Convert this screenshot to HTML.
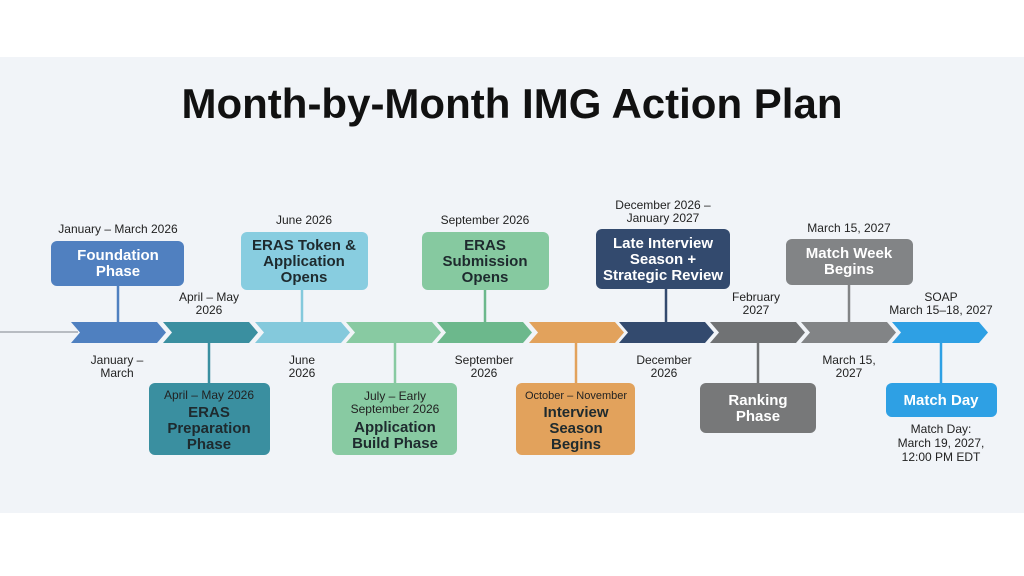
<!DOCTYPE html>
<html><head><style>
html,body{margin:0;padding:0;background:#fff;}
svg{display:block;}
text{font-family:"Liberation Sans","DejaVu Sans",sans-serif;text-anchor:middle;}
.l{font-size:12px;fill:#222;}
.b{font-size:15px;font-weight:bold;}
.w{fill:#fff;}
.d{fill:#1e2a2e;}
</style></head><body>
<svg width="1024" height="576" viewBox="0 0 1024 576" xmlns="http://www.w3.org/2000/svg">
<rect x="0" y="0" width="1024" height="576" fill="#fff"/>
<rect x="0" y="57" width="1024" height="456" fill="#f1f4f8"/>
<text x="512" y="118" style="font-size:42px;font-weight:bold;fill:#111">Month-by-Month IMG Action Plan</text>
<line x1="0" y1="332" x2="78" y2="332" stroke="#b8bcc2" stroke-width="2"/>
<g>
<polygon points="71,322 157,322 166,332.5 157,343 71,343 80,332.5" fill="#4f80c0"/>
<polygon points="163,322 249,322 258,332.5 249,343 163,343 172,332.5" fill="#3a8fa0"/>
<polygon points="255,322 341,322 350,332.5 341,343 255,343 264,332.5" fill="#84c9dc"/>
<polygon points="346,322 432,322 441,332.5 432,343 346,343 355,332.5" fill="#88caa2"/>
<polygon points="437,322 523,322 532,332.5 523,343 437,343 446,332.5" fill="#6cb88c"/>
<polygon points="529,322 615,322 624,332.5 615,343 529,343 538,332.5" fill="#e2a25c"/>
<polygon points="619,322 705,322 714,332.5 705,343 619,343 628,332.5" fill="#334a6e"/>
<polygon points="710,322 796,322 805,332.5 796,343 710,343 719,332.5" fill="#707274"/>
<polygon points="801,322 887,322 896,332.5 887,343 801,343 810,332.5" fill="#828486"/>
<polygon points="892,322 979,322 988,332.5 979,343 892,343 901,332.5" fill="#2ea0e4"/>
</g>
<g stroke-width="2.5">
<line x1="118" y1="286" x2="118" y2="322" stroke="#4f80c0"/>
<line x1="209" y1="343" x2="209" y2="383" stroke="#3a8fa0"/>
<line x1="302" y1="290" x2="302" y2="322" stroke="#84c9dc"/>
<line x1="395" y1="343" x2="395" y2="383" stroke="#88caa2"/>
<line x1="485" y1="290" x2="485" y2="322" stroke="#6cb88c"/>
<line x1="576" y1="343" x2="576" y2="383" stroke="#e2a25c"/>
<line x1="666" y1="289" x2="666" y2="322" stroke="#334a6e"/>
<line x1="758" y1="343" x2="758" y2="383" stroke="#707274"/>
<line x1="849" y1="285" x2="849" y2="322" stroke="#828486"/>
<line x1="941" y1="343" x2="941" y2="383" stroke="#2ea0e4"/>
</g>
<rect x="51" y="241" width="133" height="45" rx="6" fill="#5080c0"/>
<text class="b w" x="118" y="260">Foundation</text><text class="b w" x="118" y="276">Phase</text>
<rect x="149" y="383" width="121" height="72" rx="6" fill="#3a8fa0"/>
<text class="l" x="209" y="399">April – May 2026</text>
<text class="b d" x="209" y="417">ERAS</text><text class="b d" x="209" y="433">Preparation</text><text class="b d" x="209" y="449">Phase</text>
<rect x="241" y="232" width="127" height="58" rx="6" fill="#88cde0"/>
<text class="b d" x="304" y="250">ERAS Token &amp;</text><text class="b d" x="304" y="266">Application</text><text class="b d" x="304" y="282">Opens</text>
<rect x="332" y="383" width="125" height="72" rx="6" fill="#88caa2"/>
<text class="l" x="395" y="400">July – Early</text><text class="l" x="395" y="413">September 2026</text>
<text class="b d" x="395" y="432">Application</text><text class="b d" x="395" y="448">Build Phase</text>
<rect x="422" y="232" width="127" height="58" rx="6" fill="#86c9a0"/>
<text class="b d" x="485" y="250">ERAS</text><text class="b d" x="485" y="266">Submission</text><text class="b d" x="485" y="282">Opens</text>
<rect x="516" y="383" width="119" height="72" rx="6" fill="#e2a25c"/>
<text class="l" x="576" y="399" style="font-size:11px">October – November</text>
<text class="b d" x="576" y="417">Interview</text><text class="b d" x="576" y="433">Season</text><text class="b d" x="576" y="449">Begins</text>
<rect x="596" y="229" width="134" height="60" rx="6" fill="#334a6e"/>
<text class="b w" x="663" y="248">Late Interview</text><text class="b w" x="663" y="264">Season +</text><text class="b w" x="663" y="280">Strategic Review</text>
<rect x="700" y="383" width="116" height="50" rx="6" fill="#777879"/>
<text class="b w" x="758" y="405">Ranking</text><text class="b w" x="758" y="421">Phase</text>
<rect x="786" y="239" width="127" height="46" rx="6" fill="#828486"/>
<text class="b w" x="849" y="258">Match Week</text><text class="b w" x="849" y="274">Begins</text>
<rect x="886" y="383" width="111" height="34" rx="6" fill="#2ea0e4"/>
<text class="b w" x="941" y="405">Match Day</text>
<g class="l">
<text class="l" x="118" y="233">January – March 2026</text>
<text class="l" x="209" y="301">April – May</text><text class="l" x="209" y="314">2026</text>
<text class="l" x="304" y="224">June 2026</text>
<text class="l" x="485" y="224">September 2026</text>
<text class="l" x="663" y="209">December 2026 –</text><text class="l" x="663" y="222">January 2027</text>
<text class="l" x="756" y="301">February</text><text class="l" x="756" y="314">2027</text>
<text class="l" x="849" y="232">March 15, 2027</text>
<text class="l" x="941" y="301">SOAP</text><text class="l" x="941" y="314">March 15–18, 2027</text>
<text class="l" x="117" y="364">January –</text><text class="l" x="117" y="377">March</text>
<text class="l" x="302" y="364">June</text><text class="l" x="302" y="377">2026</text>
<text class="l" x="484" y="364">September</text><text class="l" x="484" y="377">2026</text>
<text class="l" x="664" y="364">December</text><text class="l" x="664" y="377">2026</text>
<text class="l" x="849" y="364">March 15,</text><text class="l" x="849" y="377">2027</text>
<text class="l" x="941" y="433">Match Day:</text><text class="l" x="941" y="447">March 19, 2027,</text><text class="l" x="941" y="461">12:00 PM EDT</text>
</g>
</svg>
</body></html>
